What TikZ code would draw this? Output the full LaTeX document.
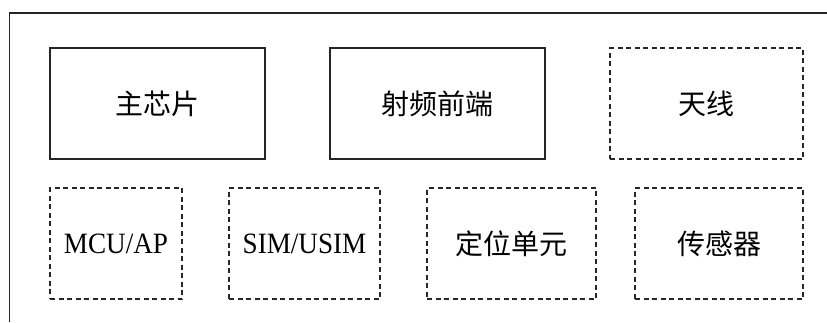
\documentclass[tikz,border=0pt]{standalone}
\usepackage{fontspec}
\setmainfont{Liberation Serif}
\newfontfamily\latinnarrow[FakeStretch=0.92]{Liberation Serif}
\newfontfamily\cjk{Noto Sans CJK SC}
\begin{document}
\begin{tikzpicture}[x=1pt,y=-1pt,
  solidbox/.style={draw=black!85,line width=1.3pt,minimum width=#1,minimum height=111pt,inner sep=0pt,font=\cjk\fontsize{28}{32}\selectfont},
  dashbox/.style={draw=black!85,line width=1.3pt,dash pattern=on 5pt off 3.5pt,minimum width=#1,minimum height=111pt,inner sep=0pt,font=\cjk\fontsize{28}{32}\selectfont},
  latin/.style={font=\latinnarrow\fontsize{29.5}{32}\selectfont}]
\useasboundingbox (0,0) rectangle (827,322);
\coordinate (tl) at (9.5,13);
\coordinate (tr) at (827,13);
\coordinate (bl) at (9.5,322);
\draw[line width=1.5pt,black!85] (tr) -- (tl) -- (bl);
\node[solidbox=215pt] (chip) at (157.5,103.5) {主芯片};
\node[solidbox=215pt] (rf) at (437.5,103.5) {射频前端};
\node[dashbox=193pt] (ant) at (706.5,103.5) {天线};
\node[dashbox=132pt,latin] (mcu) at (116,243.5) {MCU/AP};
\node[dashbox=151pt,latin] (sim) at (304.5,243.5) {SIM/USIM};
\node[dashbox=169pt] (gps) at (511.5,243.5) {定位单元};
\node[dashbox=168pt] (sens) at (719,243.5) {传感器};
\end{tikzpicture}
\end{document}
